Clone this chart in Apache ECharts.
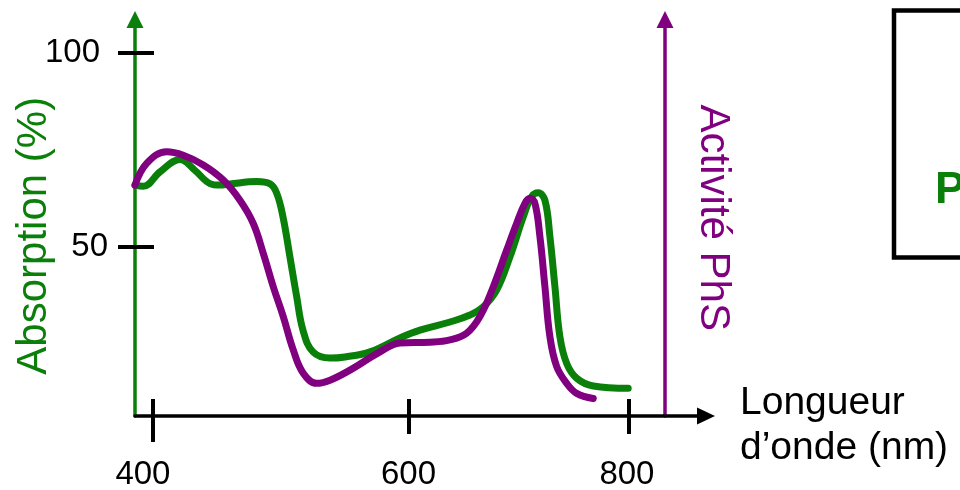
<!DOCTYPE html>
<html><head><meta charset="utf-8">
<script src="https://cdn.jsdelivr.net/npm/echarts@6/dist/echarts.min.js"></script>
<style>html,body{margin:0;padding:0;background:#fff}#c{width:960px;height:490px}</style>
</head><body><div id="c"></div>
<script>
// Absorption (green) curve: wavelength (schematic nm) and %
const greenX = [386.2, 392.7, 405.7, 421.3, 433.0, 444.7, 452.5, 460.3, 481.2, 491.6, 496.8, 501.7, 507.1, 512.4, 517.3, 525.1, 538.4, 550.1, 569.6, 593.0, 608.6, 632.0, 647.6, 658.0, 668.4, 678.8, 689.2, 695.7, 700.9, 706.1, 710.0, 713.9, 717.8, 723.1, 730.9, 743.8, 771.1];
const greenY = [65.9, 65.6, 69.3, 72.5, 69.7, 66.3, 65.9, 66.2, 66.8, 66.2, 63.8, 57.7, 47.4, 37.1, 28.5, 22.9, 21.3, 21.6, 22.9, 26.5, 28.5, 30.6, 32.4, 34.5, 38.8, 47.4, 57.7, 62.9, 63.9, 62.0, 52.6, 39.7, 26.8, 19.9, 16.1, 14.1, 13.5];
// Activité PhS (purple) curve
const purpleX = [386.2, 395.3, 410.9, 423.9, 439.5, 455.1, 468.1, 478.5, 486.3, 494.1, 501.9, 509.7, 517.5, 528.0, 538.4, 554.0, 577.4, 593.0, 616.4, 632.0, 645.0, 655.4, 665.8, 676.2, 684.0, 690.5, 694.4, 698.3, 702.2, 706.1, 710.0, 715.3, 723.1, 730.9, 743.8];
const purpleY = [65.9, 71.5, 74.5, 73.6, 71.1, 67.2, 62.0, 56.0, 48.3, 39.7, 32.0, 23.4, 17.4, 14.8, 15.6, 18.2, 22.9, 25.2, 25.4, 26.0, 27.7, 32.0, 39.7, 49.1, 56.0, 61.2, 62.5, 61.2, 52.6, 39.7, 26.8, 19.1, 14.8, 12.2, 10.9];
// Axis ticks and labels
const xTickValues = [400, 600, 771.7];
const xTickLabels = ['400', '600', '800'];
const xLabelValues = [392.4, 599.6, 770.1];
const yTickValues = [50, 100];
const yTickLabels = ['50', '100'];

const G = '#0a800a', P = '#800080';
const FF = "'Liberation Sans', Arial, sans-serif";
const X_MIN = 386.2, X_MAX = 831.8, Y_MIN = 6.37, Y_MAX = 108.6;

function nearestLabel(v, vals, labels) {
  let b = 0;
  for (let i = 1; i < vals.length; i++) if (Math.abs(vals[i] - v) < Math.abs(vals[b] - v)) b = i;
  return labels[b];
}

const chart = echarts.init(document.getElementById('c'), null, {renderer: 'canvas'});
chart.setOption({
  animation: false,
  backgroundColor: '#fff',
  grid: {left: 135, top: 19.5, right: 254, bottom: 74, containLabel: false, outerBoundsMode: 'none'},
  xAxis: [
    {
      type: 'value', min: X_MIN, max: X_MAX, position: 'bottom',
      axisLine: {show: true, onZero: false, symbol: ['none', 'triangle'], symbolSize: [17, 18], lineStyle: {color: '#000', width: 3.5}},
      axisTick: {show: true, inside: true, length: 17, customValues: xTickValues, lineStyle: {color: '#000', width: 4}},
      axisLabel: {show: true, customValues: xLabelValues, margin: 42, color: '#000', fontSize: 33, fontFamily: FF,
        formatter: v => nearestLabel(v, xLabelValues, xTickLabels)},
      splitLine: {show: false},
      name: '{s| }\n{t|Longueur}\n{t|d’onde (nm)}', nameLocation: 'end', nameGap: 34, nameMoveOverlap: false,
      nameTextStyle: {color: '#000', fontSize: 39, fontFamily: FF, align: 'left', verticalAlign: 'middle',
        rich: {
          s: {fontSize: 2, lineHeight: 20, fontFamily: FF},
          t: {fontSize: 39, lineHeight: 45, fontFamily: FF, color: '#000'}
        }}
    },
    {
      type: 'value', min: X_MIN, max: X_MAX, position: 'bottom',
      axisLine: {show: false, onZero: false},
      axisTick: {show: true, inside: false, length: 18, customValues: xTickValues.slice(1), lineStyle: {color: '#000', width: 4}},
      axisLabel: {show: false}, splitLine: {show: false}
    },
    {
      type: 'value', min: X_MIN, max: X_MAX, position: 'bottom',
      axisLine: {show: false, onZero: false},
      axisTick: {show: true, inside: false, length: 26, customValues: xTickValues.slice(0, 1), lineStyle: {color: '#000', width: 4}},
      axisLabel: {show: false}, splitLine: {show: false}
    }
  ],
  yAxis: [
    {
      type: 'value', min: Y_MIN, max: Y_MAX, position: 'left',
      axisLine: {show: true, onZero: false, symbol: ['none', 'triangle'], symbolSize: [17, 17], lineStyle: {color: G, width: 3.5}},
      axisTick: {show: true, inside: true, length: 19, customValues: yTickValues, lineStyle: {color: '#000', width: 4}},
      axisLabel: {show: true, customValues: yTickValues, margin: 27, color: '#000', fontSize: 33, fontFamily: FF,
        formatter: v => {
          const t = nearestLabel(v, yTickValues, yTickLabels);
          return t === '100' ? '{h|' + t + '}' : '{n|' + t + '}';
        },
        rich: {
          h: {fontSize: 33, fontFamily: FF, color: '#000', padding: [0, 8, 0, 0]},
          n: {fontSize: 33, fontFamily: FF, color: '#000'}
        }},
      splitLine: {show: false},
      name: 'Absorption (%)', nameLocation: 'middle', nameRotate: 90, nameGap: 80, nameMoveOverlap: false,
      nameTextStyle: {color: G, fontSize: 42, fontFamily: FF, padding: [0, 36, 0, 0]}
    },
    {
      type: 'value', min: Y_MIN, max: Y_MAX, position: 'left',
      axisLine: {show: false, onZero: false},
      axisTick: {show: true, inside: false, length: 17, customValues: yTickValues, lineStyle: {color: '#000', width: 4}},
      axisLabel: {show: false}, splitLine: {show: false}
    },
    {
      type: 'value', min: Y_MIN, max: Y_MAX, position: 'right', offset: -41,
      axisLine: {show: true, onZero: false, symbol: ['none', 'triangle'], symbolSize: [17, 17], lineStyle: {color: P, width: 3.5}},
      axisTick: {show: false}, axisLabel: {show: false}, splitLine: {show: false},
      name: 'Activité PhS', nameLocation: 'middle', nameRotate: -90, nameGap: 27, nameMoveOverlap: false,
      nameTextStyle: {color: P, fontSize: 42, fontFamily: FF}
    }
  ],
  series: [
    {
      name: 'Absorption', type: 'line', xAxisIndex: 0, yAxisIndex: 0, smooth: 0.4, showSymbol: false, clip: false,
      lineStyle: {color: G, width: 7, cap: 'round', join: 'round'},
      data: greenX.map((x, i) => [x, greenY[i]])
    },
    {
      name: 'Activité PhS', type: 'line', xAxisIndex: 0, yAxisIndex: 0, smooth: 0.4, showSymbol: false, clip: false,
      lineStyle: {color: P, width: 7, cap: 'round', join: 'round'},
      data: purpleX.map((x, i) => [x, purpleY[i]])
    }
  ],
  graphic: [
    {type: 'rect', shape: {x: 894, y: 10.5, width: 120, height: 247}, style: {fill: 'none', stroke: '#000', lineWidth: 4.5}},
    {type: 'text', x: 935, y: 191, style: {text: 'Pigment', fill: G, fontSize: 45, fontWeight: 'bold', fontFamily: FF, verticalAlign: 'middle', align: 'left'}}
  ]
});
</script>
</body></html>
